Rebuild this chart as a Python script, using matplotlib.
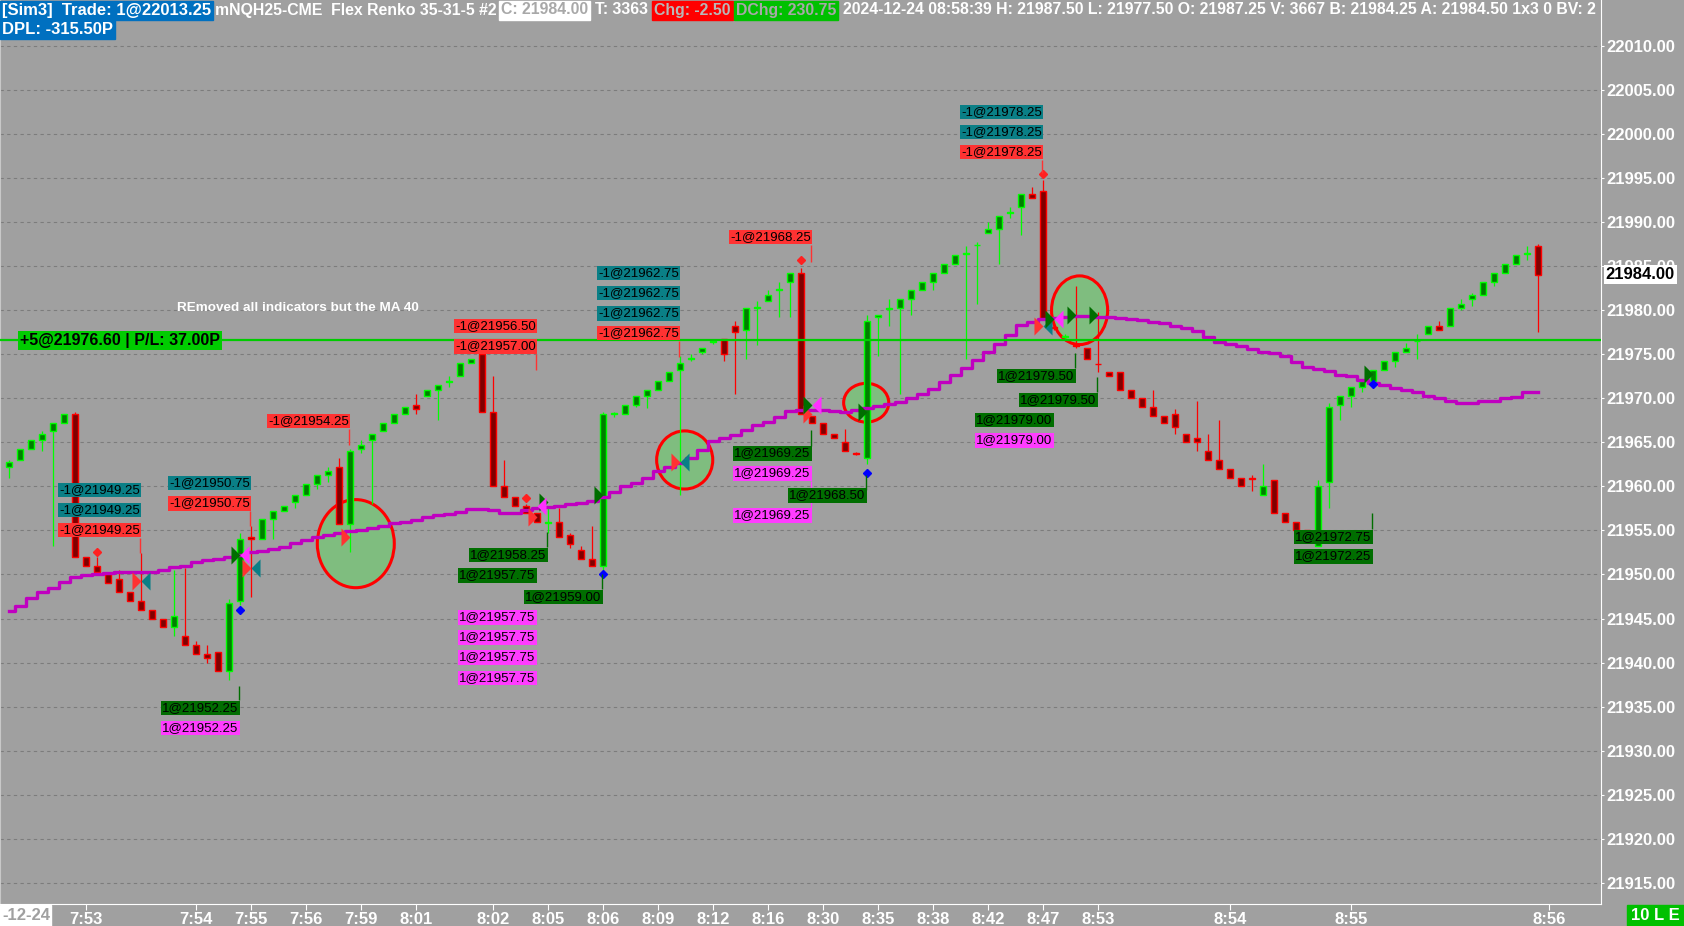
import matplotlib
matplotlib.use('Agg')
import matplotlib.pyplot as plt
from matplotlib.patches import Ellipse, Rectangle
from matplotlib.path import Path
from matplotlib.transforms import IdentityTransform
import numpy as np

FONT = ['Liberation Sans', 'DejaVu Sans']
plt.rcParams['font.family'] = FONT

BG = '#A0A0A0'

# renko bars (open, close, high, low), one entry per bar
opens = [21962.25, 21963.0, 21964.25, 21965.25, 21966.25, 21967.25, 21968.25, 21952.0, 21951.0, 21950.0,
         21949.5, 21948.0, 21947.0, 21946.0, 21945.0, 21944.0, 21943.0, 21942.0, 21941.0, 21941.25,
         21939.0, 21947.0, 21954.25, 21954.0, 21956.25, 21957.25, 21958.25, 21959.0, 21960.25, 21961.25,
         21962.25, 21955.75, 21964.25, 21965.25, 21966.25, 21967.25, 21968.25, 21969.25, 21970.25, 21971.0,
         21971.9, 21972.5, 21974.0, 21975.0, 21968.5, 21960.0, 21958.75, 21957.75, 21957.0, 21955.9,
         21956.0, 21954.5, 21952.75, 21951.75, 21951.0, 21968.2, 21968.25, 21969.25, 21970.25, 21971.0,
         21972.0, 21973.25, 21974.45, 21975.25, 21976.35, 21976.75, 21978.25, 21977.75, 21980.3, 21981.0,
         21982.35, 21983.25, 21984.25, 21968.0, 21967.25, 21966.0, 21965.0, 21963.8, 21963.25, 21979.25,
         21980.15, 21980.25, 21981.25, 21982.25, 21983.25, 21984.25, 21985.25, 21986.35, 21987.35, 21988.75,
         21989.25, 21991.05, 21991.75, 21993.25, 21993.5, 21978.05, 21976.95, 21976.0, 21975.75, 21973.95,
         21973.0, 21973.0, 21971.0, 21970.0, 21969.0, 21968.0, 21968.25, 21966.0, 21965.5, 21964.0,
         21963.0, 21962.0, 21961.0, 21960.9, 21959.0, 21960.75, 21957.0, 21956.0, 21955.0, 21953.25,
         21960.5, 21969.25, 21970.25, 21971.25, 21972.0, 21973.25, 21974.25, 21975.25, 21976.45, 21977.25,
         21978.25, 21978.25, 21980.25, 21981.25, 21981.75, 21983.25, 21984.25, 21985.25, 21986.35, 21987.25]
closes = [21962.75, 21964.25, 21965.25, 21966.0, 21967.25, 21968.25, 21952.0, 21951.0, 21950.25, 21949.0,
          21948.0, 21947.0, 21946.0, 21945.0, 21944.0, 21945.25, 21942.0, 21941.0, 21940.5, 21939.0,
          21946.75, 21954.0, 21954.0, 21956.25, 21957.25, 21957.75, 21959.0, 21960.25, 21961.25, 21961.75,
          21955.75, 21964.0, 21964.75, 21966.0, 21967.25, 21968.25, 21969.0, 21968.75, 21971.0, 21971.5,
          21972.0, 21974.0, 21974.5, 21968.5, 21960.0, 21958.75, 21957.75, 21957.0, 21956.0, 21956.0,
          21954.25, 21953.5, 21951.75, 21951.0, 21968.25, 21968.3, 21969.25, 21970.25, 21971.0, 21972.0,
          21973.0, 21974.0, 21974.55, 21975.75, 21976.45, 21975.0, 21977.5, 21980.25, 21980.4, 21981.75,
          21982.45, 21984.25, 21968.25, 21967.25, 21966.0, 21965.5, 21964.0, 21963.7, 21978.75, 21979.5,
          21980.25, 21981.25, 21982.25, 21983.25, 21984.25, 21985.25, 21986.25, 21986.45, 21987.45, 21989.25,
          21990.75, 21991.15, 21993.25, 21992.75, 21979.0, 21977.95, 21977.05, 21975.9, 21974.5, 21973.85,
          21972.5, 21971.0, 21970.0, 21969.0, 21968.0, 21967.25, 21966.75, 21965.0, 21965.0, 21963.0,
          21962.0, 21961.0, 21960.0, 21960.8, 21960.0, 21957.0, 21956.0, 21955.0, 21954.0, 21960.0,
          21969.0, 21970.25, 21971.25, 21972.0, 21973.25, 21974.25, 21975.25, 21975.75, 21976.55, 21978.25,
          21977.75, 21980.25, 21980.75, 21981.75, 21983.25, 21984.25, 21985.25, 21986.25, 21986.45, 21984.0]
highs = [21963.0, 21964.25, 21965.25, 21966.25, 21967.25, 21968.25, 21968.5, 21952.0, 21952.0, 21950.0,
         21950.5, 21948.0, 21952.4, 21946.0, 21945.0, 21950.5, 21950.75, 21942.5, 21942.0, 21941.25,
         21947.25, 21954.75, 21955.5, 21956.25, 21957.25, 21957.75, 21959.0, 21960.25, 21961.25, 21962.25,
         21963.25, 21964.25, 21965.25, 21966.0, 21967.25, 21968.25, 21969.0, 21970.5, 21971.0, 21971.5,
         21972.5, 21974.0, 21974.5, 21975.25, 21972.5, 21963.0, 21958.75, 21958.0, 21957.0, 21957.5,
         21957.5, 21954.75, 21953.25, 21955.5, 21968.5, 21968.5, 21969.25, 21970.25, 21971.0, 21972.0,
         21973.0, 21974.75, 21975.0, 21975.75, 21976.6, 21976.75, 21978.75, 21980.25, 21981.0, 21982.25,
         21983.25, 21984.25, 21984.75, 21968.0, 21967.25, 21966.0, 21966.5, 21963.9, 21979.5, 21979.5,
         21981.25, 21981.25, 21982.25, 21983.25, 21984.25, 21985.25, 21986.25, 21987.25, 21987.75, 21990.0,
         21990.75, 21991.75, 21993.25, 21994.0, 21994.75, 21978.25, 21977.25, 21982.75, 21975.75, 21979.75,
         21973.0, 21973.0, 21971.0, 21970.0, 21971.0, 21968.0, 21968.75, 21966.0, 21969.75, 21966.0,
         21967.5, 21962.0, 21961.0, 21961.25, 21962.5, 21960.75, 21957.0, 21956.0, 21955.0, 21960.75,
         21969.5, 21970.25, 21971.25, 21972.0, 21973.25, 21974.25, 21975.25, 21976.25, 21977.25, 21978.25,
         21978.75, 21980.25, 21981.25, 21982.0, 21983.25, 21984.25, 21985.25, 21986.25, 21987.25, 21987.5]
lows = [21961.0, 21963.0, 21964.25, 21964.0, 21953.25, 21967.25, 21952.0, 21951.0, 21950.25, 21949.0,
        21948.0, 21947.0, 21946.0, 21945.0, 21944.0, 21943.0, 21942.0, 21941.0, 21940.0, 21939.0,
        21938.0, 21946.5, 21947.5, 21954.0, 21954.0, 21957.25, 21957.5, 21959.0, 21959.75, 21960.5,
        21955.75, 21952.5, 21963.75, 21958.0, 21966.25, 21967.25, 21968.25, 21968.25, 21970.25, 21967.5,
        21971.25, 21972.5, 21974.0, 21968.5, 21960.0, 21958.75, 21957.75, 21957.0, 21956.0, 21954.75,
        21954.25, 21953.0, 21951.75, 21951.0, 21950.0, 21967.9, 21968.25, 21969.0, 21968.9, 21971.0,
        21972.0, 21959.0, 21974.25, 21975.0, 21976.2, 21974.25, 21970.5, 21974.5, 21976.0, 21981.0,
        21979.25, 21979.25, 21968.25, 21967.25, 21966.0, 21965.5, 21964.0, 21963.6, 21962.5, 21974.75,
        21978.25, 21970.5, 21979.5, 21982.25, 21982.25, 21984.25, 21985.25, 21974.5, 21980.75, 21988.75,
        21985.25, 21990.5, 21988.5, 21992.75, 21979.0, 21977.75, 21976.75, 21975.75, 21974.5, 21973.0,
        21972.5, 21971.0, 21970.0, 21969.0, 21968.0, 21967.25, 21966.0, 21965.0, 21964.0, 21963.0,
        21962.0, 21961.0, 21960.0, 21959.5, 21959.0, 21957.0, 21956.0, 21955.0, 21954.0, 21953.25,
        21957.5, 21967.5, 21969.0, 21970.75, 21972.0, 21973.25, 21973.5, 21975.25, 21974.5, 21977.25,
        21977.75, 21978.25, 21980.0, 21980.5, 21981.75, 21982.75, 21984.25, 21985.25, 21985.75, 21977.5]

# MA 40 value at every bar
ma40 = [21945.8, 21946.4, 21947.3, 21948.0, 21948.5, 21949.2, 21949.7, 21949.9, 21950.1, 21950.2,
        21950.3, 21950.3, 21950.3, 21950.3, 21950.5, 21950.8, 21951.0, 21951.4, 21951.6, 21951.8,
        21952.0, 21952.2, 21952.5, 21952.7, 21952.9, 21953.1, 21953.6, 21953.9, 21954.2, 21954.5,
        21954.7, 21954.9, 21955.1, 21955.3, 21955.5, 21955.8, 21956.0, 21956.2, 21956.5, 21956.8,
        21956.9, 21957.1, 21957.4, 21957.4, 21957.3, 21956.95, 21957.0, 21957.3, 21957.5, 21957.7,
        21957.8, 21958.0, 21958.1, 21958.3, 21958.8, 21959.4, 21960.0, 21960.35, 21960.9, 21961.7,
        21962.2, 21962.7, 21963.2, 21964.1, 21965.1, 21965.45, 21965.8, 21966.4, 21967.0, 21967.3,
        21967.9, 21968.6, 21968.7, 21968.7, 21968.7, 21968.6, 21968.5, 21968.7, 21968.9, 21969.1,
        21969.3, 21969.6, 21970.0, 21970.5, 21971.1, 21971.9, 21972.6, 21973.4, 21974.3, 21975.3,
        21976.2, 21977.2, 21978.3, 21978.7, 21979.0, 21979.1, 21979.2, 21979.3, 21979.3, 21979.2,
        21979.2, 21979.1, 21979.0, 21978.9, 21978.7, 21978.5, 21978.25, 21977.95, 21977.6, 21977.0,
        21976.4, 21976.2, 21975.9, 21975.6, 21975.3, 21975.1, 21974.8, 21974.1, 21973.6, 21973.35,
        21973.05, 21972.7, 21972.5, 21972.1, 21971.7, 21971.5, 21971.15, 21971.0, 21970.7, 21970.3,
        21970.0, 21969.7, 21969.5, 21969.5, 21969.65, 21969.7, 21970.0, 21970.1, 21970.7, 21970.75]

# x axis time labels and the bar they sit under
time_ticks = [7, 17, 22, 27, 32, 37, 44, 49, 54, 59, 64, 69, 74, 79, 84, 89, 94, 99, 111, 122, 140]
time_labels = ['7:53', '7:54', '7:55', '7:56', '7:59', '8:01', '8:02', '8:05', '8:06', '8:09', '8:12',
               '8:16', '8:30', '8:35', '8:38', '8:42', '8:47', '8:53', '8:54', '8:55', '8:56']

# executions: sells (red), exits (teal), buys (dark green), buy fills (magenta)
sell_bar = [12, 22, 31, 48, 61, 73, 94]
sell_px = [21949.25, 21950.75, 21954.25, 21956.50, 21962.75, 21968.25, 21978.25]
exit_bar = [12, 22, 61, 94]
exit_px = [21949.25, 21950.75, 21962.75, 21978.25]
buy_bar = [21, 49, 54, 73, 78, 95, 97, 99, 124]
buy_px = [21952.25, 21958.25, 21959.00, 21969.25, 21968.50, 21979.00, 21979.50, 21979.50, 21972.75]
fill_bar = [21, 48, 73, 95]
fill_px = [21952.25, 21957.75, 21969.25, 21979.00]

# stop diamonds
red_dot_bar = [8, 47, 72, 94]
red_dot_px = [21952.6, 21958.65, 21985.7, 21995.5]
blue_dot_bar = [21, 54, 78, 124]
blue_dot_px = [21946.0, 21950.0, 21961.55, 21971.65]

# execution tags
tag_text = ['-1@21949.25', '-1@21949.25', '-1@21949.25', '-1@21950.75', '-1@21950.75', '-1@21954.25',
            '-1@21956.50', '-1@21957.00', '-1@21962.75', '-1@21962.75', '-1@21962.75', '-1@21962.75',
            '-1@21968.25', '-1@21978.25', '-1@21978.25', '-1@21978.25',
            '1@21952.25', '1@21952.25', '1@21958.25', '1@21957.75', '1@21959.00', '1@21957.75',
            '1@21957.75', '1@21957.75', '1@21957.75', '1@21969.25', '1@21969.25', '1@21968.50',
            '1@21969.25', '1@21979.50', '1@21979.50', '1@21979.00', '1@21979.00', '1@21972.75',
            '1@21972.25']
tag_bar = [12, 12, 12, 22, 22, 31, 48, 48, 61, 61, 61, 61, 73, 94, 94, 94,
           21, 21, 49, 48, 54, 48, 48, 48, 48, 73, 73, 78, 73, 97, 99, 95, 95, 124, 124]
tag_px = [21959.59, 21957.32, 21955.05, 21960.39, 21958.06, 21967.43, 21978.21, 21975.88,
          21984.23, 21981.96, 21979.63, 21977.42, 21988.32, 22002.51, 22000.24, 21997.97,
          21934.84, 21932.57, 21952.21, 21949.89, 21947.44, 21945.12, 21942.85, 21940.58, 21938.25,
          21963.74, 21961.47, 21958.97, 21956.70, 21972.53, 21969.81, 21967.54, 21965.21,
          21954.26, 21952.04]
tag_kind = ['t', 't', 'r', 't', 'r', 'r', 'r', 'r', 't', 't', 't', 'r', 'r', 't', 't', 'r',
            'g', 'm', 'g', 'g', 'g', 'm', 'm', 'm', 'm', 'g', 'm', 'g', 'm', 'g', 'g', 'g', 'm', 'g', 'g']

# little connector lines from tags to the bars
lead_bar = [12, 22, 31, 48, 61, 73, 94, 21, 49, 54, 73, 78, 73, 97, 99, 124]
lead_from = [21954.14, 21957.21, 21966.5, 21975.03, 21976.51, 21987.41, 21997.06, 21935.75,
             21953.12, 21948.35, 21964.59, 21959.59, 21957.55, 21973.44, 21970.72, 21955.17]
lead_to = [21952.44, 21955.5, 21964.7, 21973.22, 21974.69, 21985.48, 21995.58, 21937.34,
           21954.82, 21950.06, 21966.41, 21961.30, 21960.61, 21975.15, 21972.42, 21956.98]
lead_kind = ['r', 'r', 'r', 'r', 'r', 'r', 'r', 'g', 'g', 'g', 'g', 'g', 'm', 'g', 'g', 'g']

# hand drawn circles
circle_bar = [31.5, 61.4, 77.9, 97.3]
circle_px = [21953.5, 21963.0, 21969.5, 21980.0]

position_px = 21976.60
last_px = 21984.00

tag_colors = {'t': '#0A7F86', 'r': '#FF3232', 'g': '#006E00', 'm': '#FF3CFF'}

fig = plt.figure(figsize=(16.84, 9.26), dpi=100, facecolor=BG)
ax = fig.add_axes([0, 22 / 926, 1601 / 1684, 904 / 926], facecolor=BG)
ax.set_xlim(-0.845, 144.7)
ax.set_ylim(21912.59, 22015.22)

x = np.arange(len(opens))
o = np.array(opens)
c = np.array(closes)
h = np.array(highs)
l = np.array(lows)
up = c >= o

# circles first, under everything
circle_w = [7.0, 5.1, 4.1, 5.1]
circle_h = [10.0, 6.6, 4.4, 7.8]
for cx, cy, cw, ch in zip(circle_bar, circle_px, circle_w, circle_h):
    ax.add_patch(Ellipse((cx, cy), cw, ch, fc='#7FBD7F', ec='#FF0000', lw=2.2, zorder=2))

# candles
ax.vlines(x[up], l[up], h[up], color='#00FF00', lw=0.9, zorder=3)
ax.vlines(x[~up], l[~up], h[~up], color='#FF0000', lw=0.9, zorder=3)
ax.bar(x[up], np.maximum(c[up] - o[up], 0.08), bottom=o[up], width=0.55,
       color='#007F00', edgecolor='#00FF00', lw=1.0, zorder=4)
ax.bar(x[~up], np.maximum(o[~up] - c[~up], 0.08), bottom=c[~up], width=0.55,
       color='#800000', edgecolor='#FF0000', lw=1.0, zorder=4)

# MA 40
ax.plot(x, ma40, drawstyle='steps-mid', color='#C000C0', lw=2.4, zorder=5)

# position line
ax.axhline(position_px, color='#00CC00', lw=1.6, zorder=6)

# triangles
right_tri = Path([(-1, -1), (0, 0), (-1, 1), (-1, -1)])
left_tri = Path([(1, -1), (0, 0), (1, 1), (1, -1)])
ax.plot(sell_bar, sell_px, ls='none', marker=right_tri, ms=13, color='#FF3232', mew=0, zorder=7)
ax.plot(exit_bar, exit_px, ls='none', marker=left_tri, ms=13, color='#0A7F86', mew=0, zorder=7)
ax.plot(buy_bar, buy_px, ls='none', marker=right_tri, ms=13, color='#006E00', mew=0, zorder=7)
ax.plot(fill_bar, fill_px, ls='none', marker=left_tri, ms=13, color='#FF30FF', mew=0, zorder=7)
ax.plot(red_dot_bar, red_dot_px, ls='none', marker='D', ms=4, color='#FF2020', zorder=7)
ax.plot(blue_dot_bar, blue_dot_px, ls='none', marker='D', ms=4, color='#0000FF', zorder=7)

# tags with their connectors
for b, y0, y1, k in zip(lead_bar, lead_from, lead_to, lead_kind):
    ax.vlines(b - 0.1, y0, y1, color=tag_colors[k], lw=1, zorder=7)
for s, b, y, k in zip(tag_text, tag_bar, tag_px, tag_kind):
    ax.text(b - 0.15, y, s, ha='right', va='center', fontsize=9.5, color='black', zorder=8,
            bbox=dict(boxstyle='square,pad=0.1', fc=tag_colors[k], ec='none'))

ax.text(0.0125, position_px, '+5@21976.60 | P/L: 37.00P', transform=ax.get_yaxis_transform(),
        ha='left', va='center', fontsize=11.5, fontweight='bold', color='black', zorder=9,
        bbox=dict(boxstyle='square,pad=0.12', fc='#00CC00', ec='none'))
ax.text(0.1106, 21980.25, 'REmoved all indicators but the MA 40', transform=ax.get_yaxis_transform(),
        ha='left', va='center', fontsize=9.7, fontweight='bold', color='white', zorder=9)

# axes look
ax.grid(axis='y', color='#7C7C7C', ls=(0, (3, 3)), lw=0.8)
ax.set_axisbelow(True)
ax.yaxis.tick_right()
ax.set_yticks(np.arange(21915, 22011, 5))
ax.set_yticklabels(['%.2f' % v for v in np.arange(21915, 22011, 5)], fontweight='bold')
ax.set_xticks(time_ticks)
ax.set_xticklabels(time_labels, fontweight='bold')
ax.tick_params(axis='y', colors='white', length=2.5, pad=1.5, labelsize=12)
ax.tick_params(axis='x', colors='white', length=4, pad=2, labelsize=12)
ax.spines['top'].set_visible(False)
ax.spines['left'].set_color('#C8C8C8')
ax.spines['right'].set_color('white')
ax.spines['bottom'].set_color('white')

ax.text(1.003, last_px, '21984.00', transform=ax.get_yaxis_transform(), ha='left', va='center',
        fontsize=12, fontweight='bold', color='black', clip_on=False, zorder=12,
        bbox=dict(boxstyle='square,pad=0.12', fc='white', ec='none'))

# header strip (pixel positions)
renderer = fig.canvas.get_renderer()
px = IdentityTransform()


def seg(x0, y0, s, fg, bg=None, size=11.4):
    t = fig.text(x0 + 2, y0, s, transform=px, fontsize=size, fontweight='bold', color=fg,
                 ha='left', va='center', zorder=11)
    t.set_clip_box(ax.bbox)
    t.set_clip_on(True)
    w = t.get_window_extent(renderer).width
    if bg:
        fig.add_artist(Rectangle((x0, y0 - 9.5), w + 4, 19, transform=px, color=bg, zorder=10))


seg(0, 916, '[Sim3]  Trade: 1@22013.25', 'white', '#0070C0', 12)
seg(213, 916, 'mNQH25-CME  Flex Renko 35-31-5 #2', 'white')
seg(499, 916, 'C: 21984.00', '#A8A8A8', 'white')
seg(593, 916, 'T: 3363', 'white')
seg(652, 916, 'Chg: -2.50', '#B8B8B8', '#FF0000')
seg(734, 916, 'DChg: 230.75', '#A8A8A8', '#00C000')
seg(841, 916, '2024-12-24 08:58:39 H: 21987.50 L: 21977.50 O: 21987.25 V: 3667 '
    'B: 21984.25 A: 21984.50 1x3 0 BV: 2', 'white')
seg(0, 896.5, 'DPL: -315.50P', 'white', '#0070C0', 12)

# bottom corners
fig.add_artist(Rectangle((0, 0), 51, 21, transform=px, color='white', zorder=10))
fig.text(26, 10.5, '-12-24', transform=px, fontsize=12, fontweight='bold', color='#A0A0A0',
         ha='center', va='center', zorder=11)
fig.add_artist(Rectangle((1627, 0), 57, 21, transform=px, color='#00C000', zorder=10))
fig.text(1655, 10.5, '10 L E', transform=px, fontsize=12, fontweight='bold', color='white',
         ha='center', va='center', zorder=11)

fig.savefig('out.png', dpi=100, facecolor=BG)
